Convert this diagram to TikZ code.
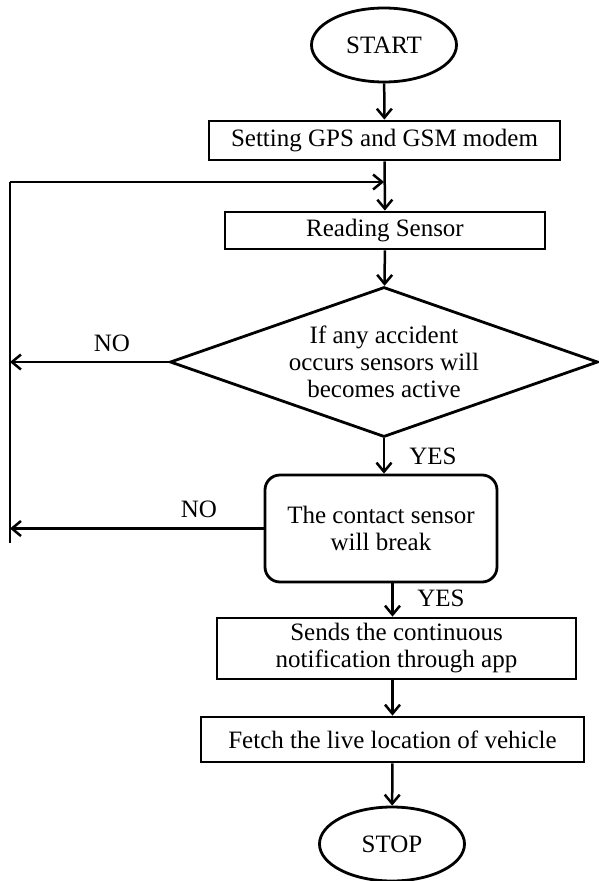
\documentclass[tikz,border=0pt]{standalone}
\usepackage{fontspec}
\setmainfont{Liberation Serif}
\usetikzlibrary{shapes.geometric,arrows.meta}

\begin{document}
\begin{tikzpicture}[x=1pt,y=-1pt]
        \useasboundingbox (0,0) rectangle (598,881);
        \begin{scope}
            \tikzstyle{every node}=[fill=white, draw=black, line width=2.8pt, text=black, inner sep=0pt, align=center, font=\fontsize{25}{27}\selectfont]
            \tikzstyle{terminal}=[ellipse, minimum width=145, minimum height=74]
            \tikzstyle{process}=[rectangle]
            \tikzstyle{decision}=[diamond, aspect=2.85, minimum width=428, minimum height=150]
            \node[terminal] (0) at (384,45) {START};
            \node[process, minimum width=351, minimum height=39] (1) at (384.5,140.5) {Setting GPS and GSM modem};
            \node[process, minimum width=320, minimum height=37] (2) at (385,230.5) {Reading Sensor};
            \node[decision] (3) at (384,362) {If any accident\\occurs sensors will\\becomes active};
            \node[process, rounded corners=15pt, minimum width=232, minimum height=107] (4) at (381,528.5) {The contact sensor\\will break};
            \node[process, minimum width=359, minimum height=61] (5) at (396.5,648.5) {Sends the continuous\\notification through app};
            \node[process, minimum width=383, minimum height=45] (6) at (392.5,739.5) {Fetch the live location of vehicle};
            \node[terminal] (7) at (392,844) {STOP};
        \end{scope}
        \begin{scope}
            \tikzstyle{every node}=[text=black, inner sep=0pt, font=\fontsize{25}{27}\selectfont]
            \node (no1) at (112,343) {NO};
            \node (yes1) at (433,456) {YES};
            \node (no2) at (199,509) {NO};
            \node (yes2) at (441,598) {YES};
        \end{scope}
        \coordinate (top) at (10,182);
        \coordinate (join) at (384,182);
        \coordinate (bot) at (10,543);
        \begin{scope}
            \tikzstyle{every edge}=[draw, line width=2.5pt, -{Straight Barb[length=9pt,width=15pt]}]
            \path
            (0) edge[] (1)
            (1) edge[] (2)
            (top) edge[] (join)
            (2) edge[] (3)
            (3) edge[] (4.north -| 3)
            (3.west) edge[] (3.west -| top)
            (4.west) edge[] (4.west -| top)
            (4.south -| 6) edge[] (5.north -| 6)
            (5.south -| 6) edge[] (6)
            (6) edge[] (7);
            \draw[line width=2.5pt] (top) -- (bot);
        \end{scope}
    \end{tikzpicture}
\end{document}
